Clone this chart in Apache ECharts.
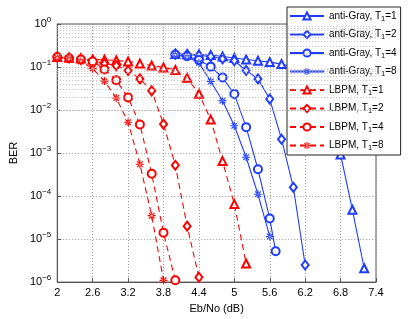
<!DOCTYPE html>
<html><head><meta charset="utf-8">
<script src="https://cdn.jsdelivr.net/npm/echarts@6/dist/echarts.min.js"></script>
<style>html,body{margin:0;padding:0;background:#fff}#c{width:415px;height:319px}</style>
</head><body><div id="c"></div>
<script>
// ---- data ----
const seriesNames = ['anti-Gray, T1=1','anti-Gray, T1=2','anti-Gray, T1=4','anti-Gray, T1=8','LBPM, T1=1','LBPM, T1=2','LBPM, T1=4','LBPM, T1=8'];
const xTickLabels = ['2','2.6','3.2','3.8','4.4','5','5.6','6.2','6.8','7.4'];
const yTickExponents = [0,-1,-2,-3,-4,-5,-6];

const agT1x = [4.0,4.2,4.4,4.6,4.8,5.0,5.2,5.4,5.6,5.8,6.0,6.2,6.4,6.6,6.8,7.0,7.2];
const agT1y = [0.2,0.198,0.195,0.19,0.175,0.162,0.15,0.14,0.13,0.117,0.1,0.075,0.04,0.012,9.3e-4,4.8e-5,2.1e-6];
const agT2x = [4.0,4.2,4.4,4.6,4.8,5.0,5.2,5.4,5.6,5.8,6.0,6.2];
const agT2y = [0.2,0.195,0.185,0.175,0.155,0.14,0.083,0.053,0.018,0.0021,1.6e-4,2.5e-6];
const agT4x = [4.0,4.2,4.4,4.6,4.8,5.0,5.2,5.4,5.6,5.7];
const agT4y = [0.195,0.178,0.145,0.102,0.057,0.0235,0.004,4.2e-4,3.0e-5,5.2e-6];
const agT8x = [4.0,4.2,4.4,4.6,4.8,5.0,5.2,5.4,5.6];
const agT8y = [0.19,0.17,0.125,0.046,0.0165,0.0043,8.0e-4,1.1e-4,1.15e-5];

const lbT1x = [2.0,2.2,2.4,2.6,2.8,3.0,3.2,3.4,3.6,3.8,4.0,4.2,4.4,4.6,4.8,5.0,5.2];
const lbT1y = [0.17,0.165,0.158,0.15,0.147,0.142,0.134,0.12,0.108,0.098,0.085,0.056,0.024,0.006,6.5e-4,6.5e-5,2.7e-6];
const lbT2x = [2.0,2.2,2.4,2.6,2.8,3.0,3.2,3.4,3.6,3.8,4.0,4.2,4.4];
const lbT2y = [0.17,0.162,0.155,0.14,0.12,0.107,0.083,0.053,0.028,0.0047,5.2e-4,2.0e-5,1.3e-6];
const lbT4x = [2.0,2.2,2.4,2.6,2.8,3.0,3.2,3.4,3.6,3.8,4.0];
const lbT4y = [0.17,0.16,0.15,0.134,0.088,0.049,0.0195,0.0046,3.3e-4,1.4e-5,1.1e-6];
const lbT8x = [2.0,2.2,2.4,2.6,2.8,3.0,3.2,3.4,3.6,3.8];
const lbT8y = [0.165,0.155,0.135,0.092,0.047,0.019,0.0052,5.5e-4,3.5e-5,1.1e-6];

// ---- chart ----
const X0 = 2, XSTEP = 0.6;
const BLUE = '#1f3cff', RED = '#ff0000';
const FONT = 'Liberation Sans, Arial, sans-serif';
const ASTER = 'path://M-0.7,-5L0.7,-5L0.7,5L-0.7,5Z M-5,-0.7L5,-0.7L5,0.7L-5,0.7Z M3.04,4.03L4.03,3.04L-3.04,-4.03L-4.03,-3.04Z M4.03,-3.04L3.04,-4.03L-4.03,3.04L-3.04,4.03Z';

function pts(xs, ys){ return xs.map((x,i)=>[x - X0, ys[i]]); }

const minorVals = [];
for (let e=-6; e<0; e++) for (let m=2; m<=9; m++) minorVals.push(m*Math.pow(10,e));

function mk(name, xs, ys, color, dashed, symbol, size){
  const isAst = symbol === ASTER;
  return {
    name, type:'line', data: pts(xs,ys), z:3,
    symbol, symbolSize: size, showSymbol:true,
    lineStyle:{color, width:1.1, type: dashed ? [6,4] : 'solid'},
    itemStyle:{color, borderColor: color, borderWidth: isAst ? 0 : 1.1},
    emphasis:{disabled:true}
  };
}

const series = [
  {type:'line', data:[], silent:true, z:1,
   markLine:{silent:true, symbol:'none', label:{show:false}, animation:false,
     lineStyle:{type:[1,2], color:'#b8b8b8', width:1},
     data: minorVals.map(v=>({yAxis:v}))}},
  mk(seriesNames[0], agT1x, agT1y, BLUE, false, 'emptyTriangle', 8),
  mk(seriesNames[1], agT2x, agT2y, BLUE, false, 'emptyDiamond', [7,9]),
  mk(seriesNames[2], agT4x, agT4y, BLUE, false, 'emptyCircle', 8),
  mk(seriesNames[3], agT8x, agT8y, BLUE, false, ASTER, 8),
  mk(seriesNames[4], lbT1x, lbT1y, RED, true, 'emptyTriangle', 8),
  mk(seriesNames[5], lbT2x, lbT2y, RED, true, 'emptyDiamond', [7,9]),
  mk(seriesNames[6], lbT4x, lbT4y, RED, true, 'emptyCircle', 8),
  mk(seriesNames[7], lbT8x, lbT8y, RED, true, ASTER, 8)
];

const chart = echarts.init(document.getElementById('c'), null, {renderer:'canvas'});
chart.setOption({
  animation:false,
  backgroundColor:'#fff',
  textStyle:{fontFamily:FONT},
  grid:{left:54, top:24, right:39, bottom:36, show:true, borderColor:'#555', borderWidth:1, backgroundColor:'transparent'},
  xAxis:{
    type:'value', min:0, max:XSTEP*(xTickLabels.length-1), interval:XSTEP,
    name:'Eb/No (dB)', nameLocation:'middle', nameGap:20,
    nameTextStyle:{fontSize:11, color:'#000', fontFamily:FONT},
    axisLine:{show:true, lineStyle:{color:'#555', width:1}},
    axisTick:{show:true, inside:true, length:4, lineStyle:{color:'#555'}},
    axisLabel:{fontSize:11, color:'#000', margin:5, fontFamily:FONT,
      formatter:(v)=>{ const i=Math.round(v/XSTEP); return xTickLabels[i]!==undefined?xTickLabels[i]:''; }},
    splitLine:{show:true, lineStyle:{type:[1,2], color:'#999', width:1}}
  },
  yAxis:{
    type:'log', logBase:10, min:1e-6, max:1,
    name:'BER', nameLocation:'middle', nameGap:28,
    nameTextStyle:{fontSize:11, color:'#000', fontFamily:FONT},
    axisLine:{show:true, lineStyle:{color:'#555', width:1}},
    axisTick:{show:true, inside:true, length:4, lineStyle:{color:'#555'}},
    axisLabel:{fontSize:11, color:'#000', margin:6, fontFamily:FONT,
      formatter:(v)=>{ const e=Math.round(Math.log10(v)); if(!yTickExponents.includes(e)) return ''; return '{b|10}{e|'+(e===0?'0':'\u2212'+(-e))+'}'; },
      rich:{b:{fontSize:11, fontFamily:FONT, color:'#000'}, e:{fontSize:8, fontFamily:FONT, color:'#000', padding:[0,0,8,0]}}},
    splitLine:{show:true, lineStyle:{type:[1,2], color:'#999', width:1}}
  },
  legend:{
    data: seriesNames, orient:'vertical', left:287, top:7,
    backgroundColor:'#fff', borderColor:'#222', borderWidth:1,
    padding:[3,4,3,2], itemWidth:34, itemHeight:9, itemGap:6,
    selectedMode:false,
    formatter:(n)=>n.replace('T1','T{s|1}'),
    textStyle:{fontSize:10, color:'#000', fontFamily:FONT, lineHeight:12,
      rich:{s:{fontSize:7.5, fontFamily:FONT, color:'#000', padding:[5,0,0,0]}}}
  },
  series
});
</script></body></html>
